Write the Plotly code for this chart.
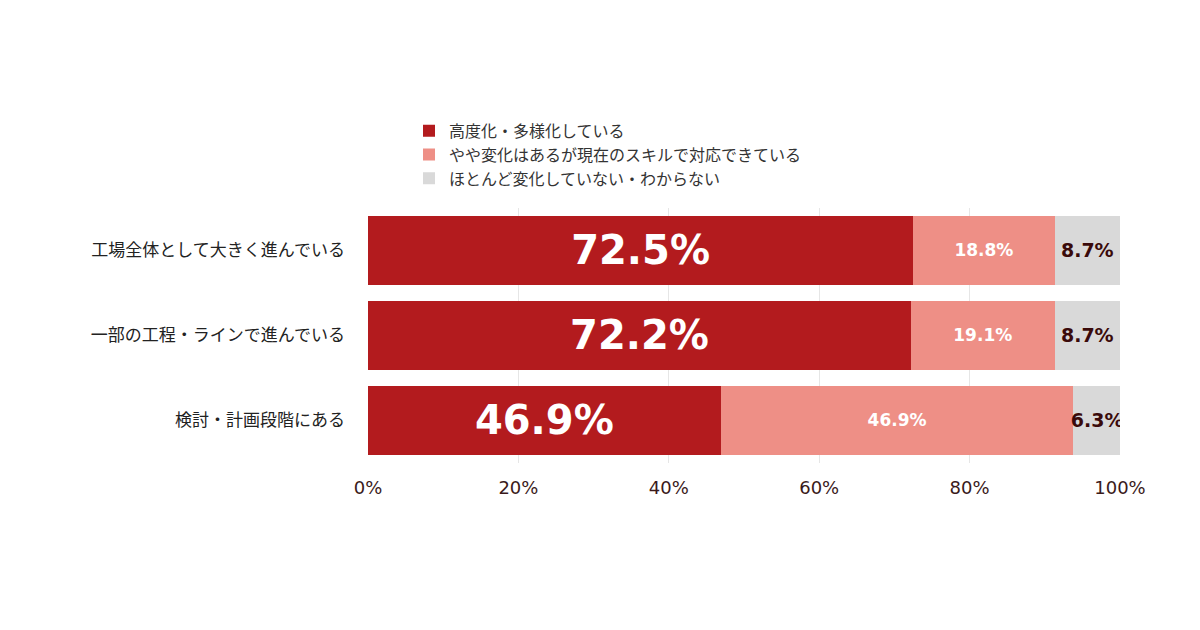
import plotly.graph_objects as go

categories = ["工場全体として大きく進んでいる", "一部の工程・ラインで進んでいる", "検討・計画段階にある"]
series_names = ["高度化・多様化している", "やや変化はあるが現在のスキルで対応できている", "ほとんど変化していない・わからない"]
advanced = [72.5, 72.2, 46.9]
somewhat = [18.8, 19.1, 46.9]
unchanged = [8.7, 8.7, 6.3]

colors = ["#B31B1E", "#EE8F86", "#D9D9D9"]
text_styles = [dict(size=40, color="white"), dict(size=17, color="white"), dict(size=19, color="#3A0A0A")]

fig = go.Figure()
for name, vals, col, tf in zip(series_names, [advanced, somewhat, unchanged], colors, text_styles):
    fig.add_trace(go.Bar(
        y=categories, x=vals, name=name, orientation="h",
        marker=dict(color=col, line=dict(width=0)),
        text=[f"{v:.1f}%" for v in vals], textposition="inside", textangle=0,
        insidetextanchor="middle", constraintext="none",
        textfont=dict(family="DejaVu Sans", size=tf["size"], color=tf["color"], weight="bold"),
        hoverinfo="skip",
    ))

fig.update_layout(
    barmode="stack", bargap=0.19,
    width=1200, height=630,
    margin=dict(l=360, r=88, t=185, b=175),
    paper_bgcolor="white", plot_bgcolor="white",
    font=dict(family="Noto Sans CJK JP", color="#222"),
    legend=dict(orientation="h", xref="container", x=0.5, xanchor="center",
                yref="container", y=0.767, yanchor="middle",
                font=dict(size=16, color="#333"), itemwidth=30, traceorder="normal"),
    xaxis=dict(range=[0, 100], tickvals=[0, 20, 40, 60, 80, 100],
               ticktext=["0%", "20%", "40%", "60%", "80%", "100%"],
               showgrid=True, gridcolor="#E6E6E6", zeroline=False,
               tickfont=dict(family="DejaVu Sans", size=18, color="#3A1A1A"),
               ticks="", ticklen=0, ticklabelstandoff=12),
    yaxis=dict(autorange="reversed", tickfont=dict(size=17, color="#222"), ticks="", ticklabelstandoff=22),
)

fig.write_html("out.html")
